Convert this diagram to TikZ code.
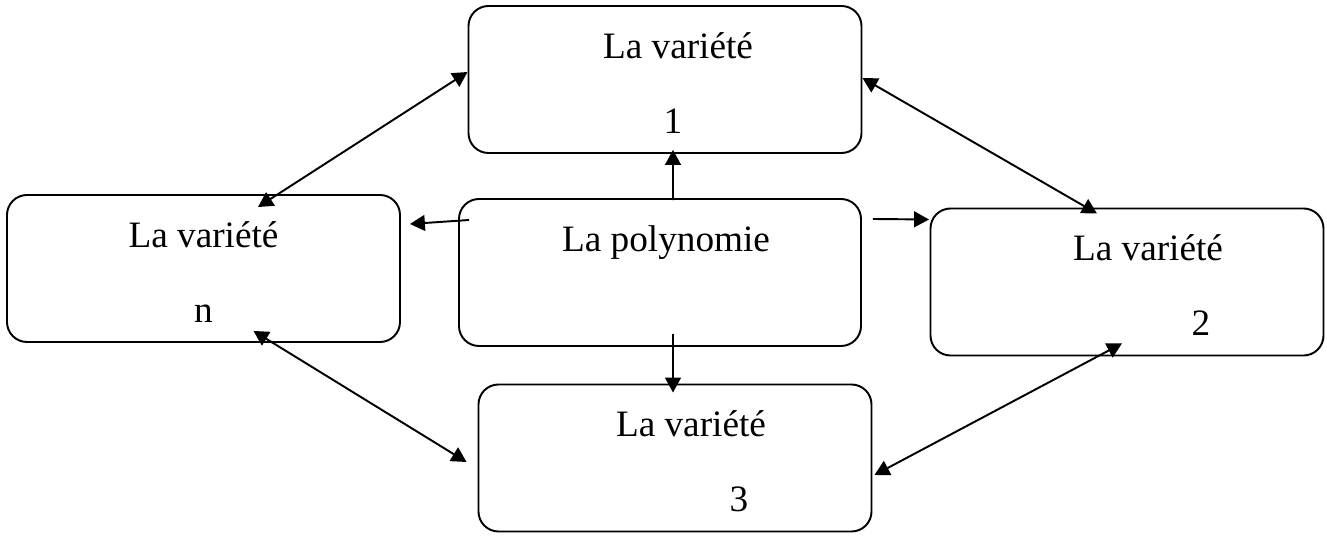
\documentclass[tikz,border=0pt]{standalone}
\usepackage{fontspec}
\setmainfont{Liberation Serif}
\usepackage{tikz}
\usetikzlibrary{arrows.meta}

\begin{document}
\begin{tikzpicture}
	[node distance={38.6mm}, line width=1.1pt, >={Triangle[length=8.5pt,width=9pt]},
	main/.style = {draw, rounded corners=4mm, minimum width=78.6mm, minimum height=29.4mm, inner sep=0pt, align=center, text height=21.6mm, text depth=0pt, font=\fontsize{21.2pt}{42.7pt}\selectfont}]
	\useasboundingbox (-132mm,-52.7mm) rectangle (133.4mm,54.5mm);
	\node[main, minimum width=80.4mm, text height=0pt, text depth=8.4mm] (p) {\hspace*{2.4mm}La polynomie};
	\node[main] (v1) [above of = p, xshift=1mm] {\hspace*{5.2mm}La variété\\\hspace*{3.2mm}1};
	\node[main, node distance={91.3mm}] (vn) [left of = p, yshift=0.8mm] {La variété\\n};
	\node[main, node distance={93.4mm}] (v2) [right of = p, yshift=-1.9mm] {\hspace*{8.4mm}La variété\\\hspace*{29.6mm}2};
	\node[main, node distance={37.1mm}] (v3) [below of = p, xshift=3mm] {\hspace*{6.4mm}La variété\\\hspace*{25.6mm}3};
	\draw[<->] ([yshift=1.5mm]v1.west) -- ([xshift=10.9mm, yshift=-2.6mm]vn.north);
	\draw[<->] ([yshift=0.3mm]v1.east) -- ([xshift=-6mm, yshift=-1.2mm]v2.north);
	\draw[->] ([xshift=2.6mm, yshift=-0.4mm]p.north) -- ([xshift=1.6mm, yshift=0.8mm]v1.south);
	\draw[->] ([xshift=2.2mm, yshift=10.5mm]p.west) -- ([xshift=1.8mm, yshift=8.9mm]vn.east);
	\draw[->] ([xshift=2.2mm, yshift=10.7mm]p.east) -- ([xshift=-0.1mm, yshift=12.5mm]v2.west);
	\draw[->] ([xshift=2.6mm, yshift=2.6mm]p.south) -- ([xshift=-0.4mm, yshift=-1.8mm]v3.north);
	\draw[<->] ([xshift=10mm, yshift=2.4mm]vn.south) -- ([xshift=-2.2mm, yshift=-0.8mm]v3.west);
	\draw[<->] ([xshift=-1mm, yshift=2.6mm]v2.south) -- ([xshift=0.4mm, yshift=-3.4mm]v3.east);
\end{tikzpicture}
\end{document}
